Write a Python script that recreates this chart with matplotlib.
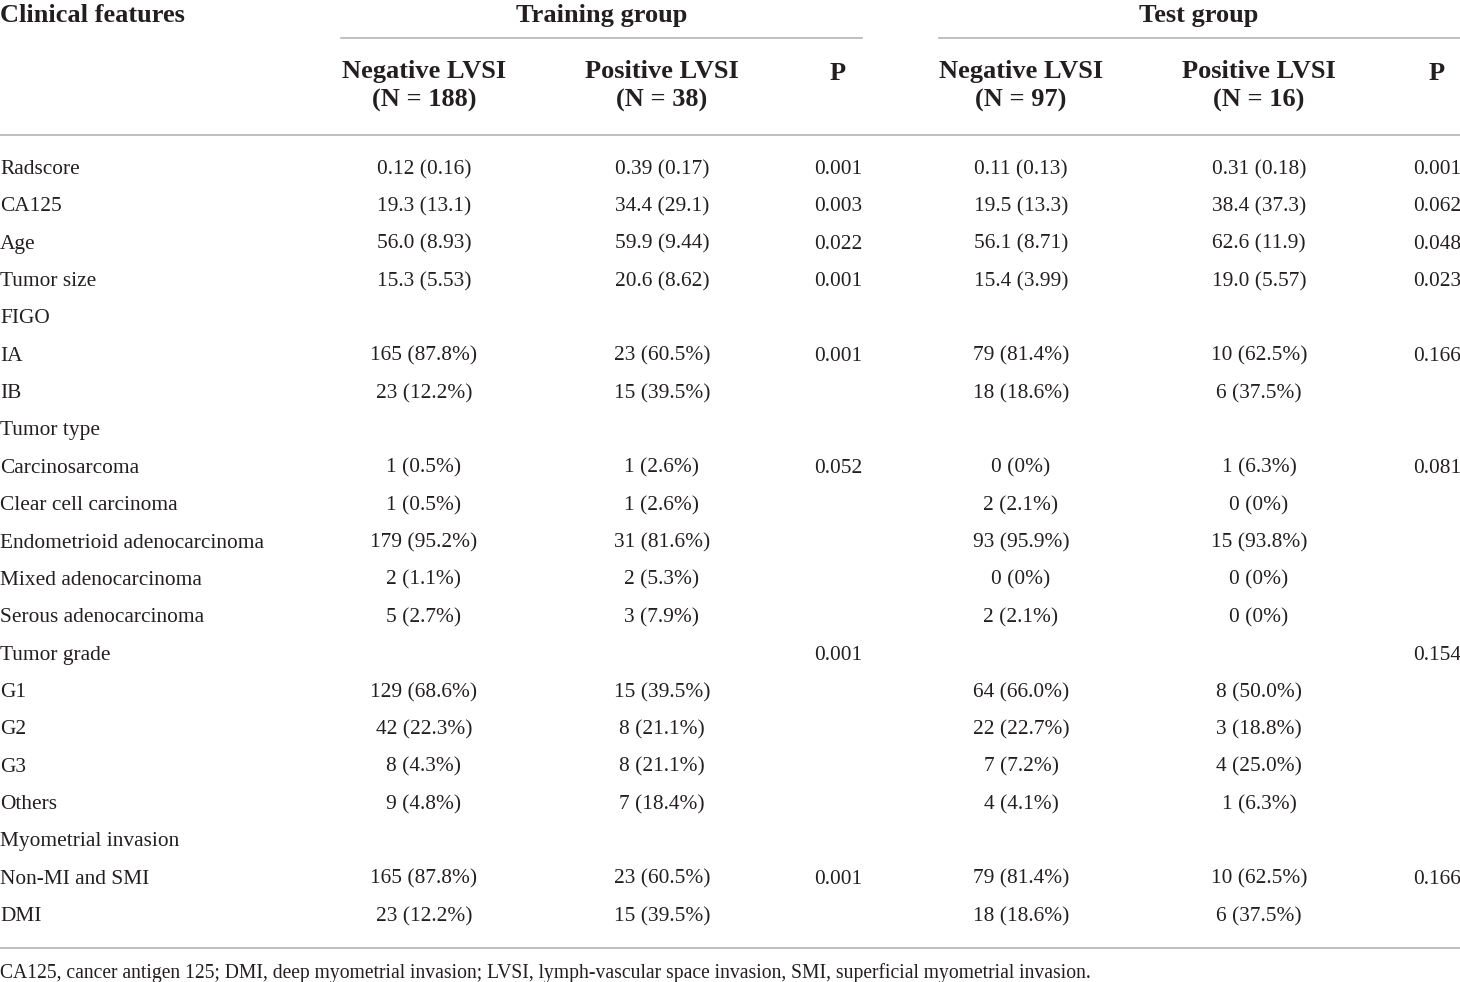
import matplotlib.pyplot as plt

# Table content
features = ['Radscore', 'CA125', 'Age', 'Tumor size', 'FIGO', 'IA', 'IB',
            'Tumor type', 'Carcinosarcoma', 'Clear cell carcinoma',
            'Endometrioid adenocarcinoma', 'Mixed adenocarcinoma',
            'Serous adenocarcinoma', 'Tumor grade', 'G1', 'G2', 'G3', 'Others',
            'Myometrial invasion', 'Non-MI and SMI', 'DMI']
train_neg = ['0.12 (0.16)', '19.3 (13.1)', '56.0 (8.93)', '15.3 (5.53)', '',
             '165 (87.8%)', '23 (12.2%)', '', '1 (0.5%)', '1 (0.5%)',
             '179 (95.2%)', '2 (1.1%)', '5 (2.7%)', '', '129 (68.6%)',
             '42 (22.3%)', '8 (4.3%)', '9 (4.8%)', '', '165 (87.8%)', '23 (12.2%)']
train_pos = ['0.39 (0.17)', '34.4 (29.1)', '59.9 (9.44)', '20.6 (8.62)', '',
             '23 (60.5%)', '15 (39.5%)', '', '1 (2.6%)', '1 (2.6%)',
             '31 (81.6%)', '2 (5.3%)', '3 (7.9%)', '', '15 (39.5%)',
             '8 (21.1%)', '8 (21.1%)', '7 (18.4%)', '', '23 (60.5%)', '15 (39.5%)']
train_p = ['0.001', '0.003', '0.022', '0.001', '', '0.001', '', '', '0.052',
           '', '', '', '', '0.001', '', '', '', '', '', '0.001', '']
test_neg = ['0.11 (0.13)', '19.5 (13.3)', '56.1 (8.71)', '15.4 (3.99)', '',
            '79 (81.4%)', '18 (18.6%)', '', '0 (0%)', '2 (2.1%)',
            '93 (95.9%)', '0 (0%)', '2 (2.1%)', '', '64 (66.0%)',
            '22 (22.7%)', '7 (7.2%)', '4 (4.1%)', '', '79 (81.4%)', '18 (18.6%)']
test_pos = ['0.31 (0.18)', '38.4 (37.3)', '62.6 (11.9)', '19.0 (5.57)', '',
            '10 (62.5%)', '6 (37.5%)', '', '1 (6.3%)', '0 (0%)',
            '15 (93.8%)', '0 (0%)', '0 (0%)', '', '8 (50.0%)',
            '3 (18.8%)', '4 (25.0%)', '1 (6.3%)', '', '10 (62.5%)', '6 (37.5%)']
test_p = ['0.001', '0.062', '0.048', '0.023', '', '0.166', '', '', '0.081',
          '', '', '', '', '0.154', '', '', '', '', '', '0.166', '']

groups = ['Training group', 'Test group']
sub_headers = ['Negative LVSI\n(N = 188)', 'Positive LVSI\n(N = 38)', 'P',
               'Negative LVSI\n(N = 97)', 'Positive LVSI\n(N = 16)', 'P']
footnote = ('CA125, cancer antigen 125; DMI, deep myometrial invasion; LVSI, '
            'lymph-vascular space invasion, SMI, superficial myometrial invasion.')

plt.rcParams['font.family'] = ['Liberation Serif', 'DejaVu Serif']
txt = '#231f20'
line_c = '#b5b5b5'

fig = plt.figure(figsize=(14.6, 9.82), dpi=100)
ax = fig.add_axes([0, 0, 1, 1])
ax.set_xlim(0, 1460)
ax.set_ylim(982, 0)
ax.axis('off')

col_x = [424, 662, 838, 1021, 1259, 1437]
fs = 15.4
hfs = 19

# header
ax.text(0, 13, 'Clinical features', fontsize=hfs, fontweight='bold',
        color=txt, ha='left', va='center_baseline')
ax.text(602, 13, groups[0], fontsize=hfs, fontweight='bold', color=txt,
        ha='center', va='center_baseline')
ax.text(1199, 13, groups[1], fontsize=hfs, fontweight='bold', color=txt,
        ha='center', va='center_baseline')
ax.plot([341, 862], [38, 38], color=line_c, lw=1.2)
ax.plot([939, 1460], [38, 38], color=line_c, lw=1.2)
for x, h in zip(col_x, sub_headers):
    if '\n' in h:
        ax.text(x, 86, h, fontsize=hfs, fontweight='bold',
                color=txt, ha='center', va='center', linespacing=1.32)
    else:
        ax.text(x, 71, h, fontsize=hfs, fontweight='bold',
                color=txt, ha='center', va='center_baseline')
ax.plot([0, 1460], [135, 135], color=line_c, lw=1.2)

# body
y0, dy = 167, 37.35
columns = [train_neg, train_pos, train_p, test_neg, test_pos, test_p]
for i, name in enumerate(features):
    y = y0 + i * dy
    ax.text(0, y, name, fontsize=fs, color=txt, ha='left', va='center_baseline')
    for x, col in zip(col_x, columns):
        if col[i]:
            ax.text(x, y, col[i], fontsize=fs, color=txt, ha='center',
                    va='center_baseline')

ax.plot([0, 1460], [948, 948], color=line_c, lw=1.2)
ax.text(0, 971, footnote, fontsize=14.1, color=txt, ha='left',
        va='center_baseline')

fig.savefig('out.png', dpi=100)
